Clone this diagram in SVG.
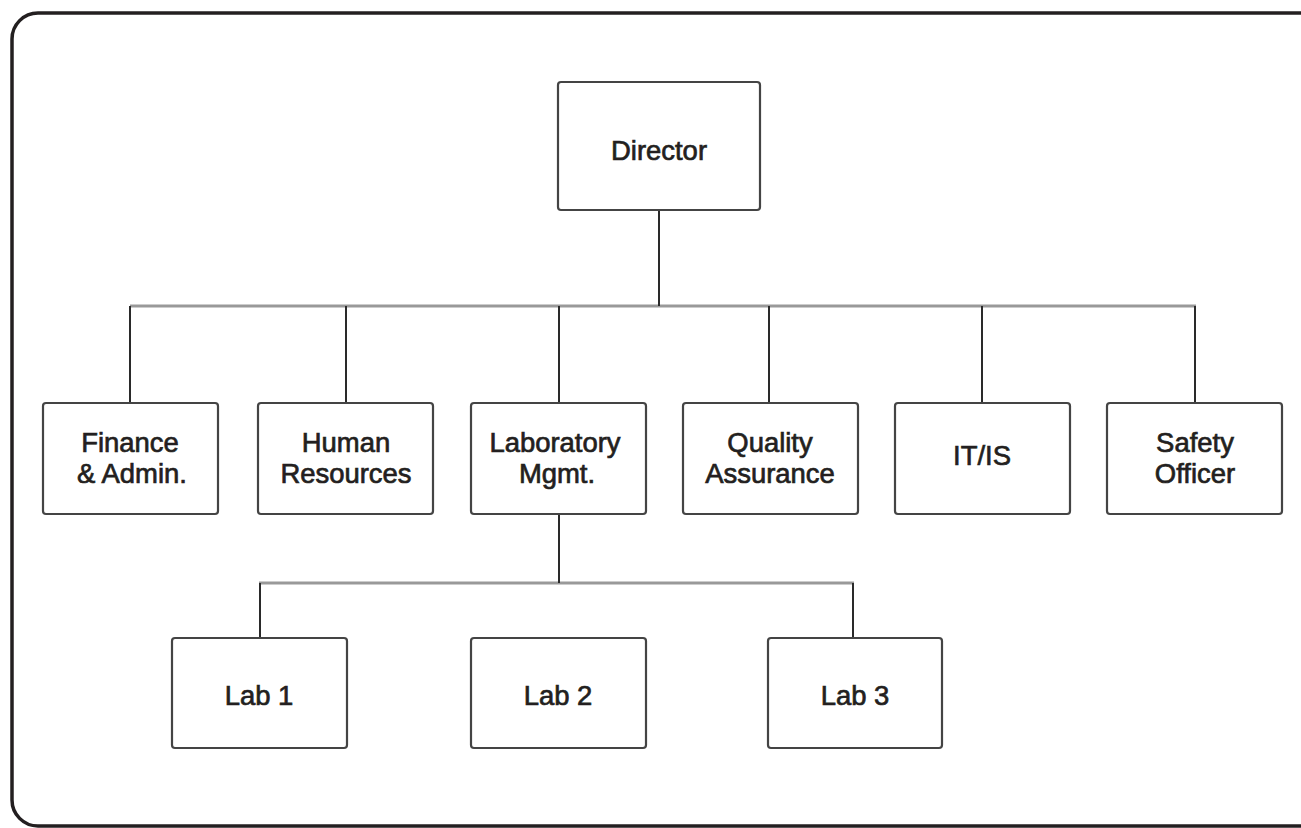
<svg xmlns="http://www.w3.org/2000/svg" width="1301" height="828" viewBox="0 0 1301 828">
<style>
.box{fill:#fff;stroke:#444;stroke-width:2.2}
.lbl{font-family:"Liberation Sans",Arial,sans-serif;font-size:28px;fill:#231f20;text-anchor:middle;stroke:#231f20;stroke-width:0.7}
.v{stroke:#2a2a2a;stroke-width:2;fill:none}
.h{stroke:#999;stroke-width:3;fill:none}
</style>
<rect x="12" y="13" width="1320" height="813" rx="26" ry="26" fill="#fff" stroke="#231f20" stroke-width="3.5"/>
<g id="connectors">
<line class="h" x1="130" y1="306" x2="1196" y2="306"/>
<line class="v" x1="659" y1="210" x2="659" y2="306"/>
<line class="v" x1="130" y1="306" x2="130" y2="403"/>
<line class="v" x1="346" y1="306" x2="346" y2="403"/>
<line class="v" x1="559" y1="306" x2="559" y2="403"/>
<line class="v" x1="769" y1="306" x2="769" y2="403"/>
<line class="v" x1="982" y1="306" x2="982" y2="403"/>
<line class="v" x1="1195" y1="306" x2="1195" y2="403"/>
<line class="h" x1="259" y1="583" x2="854" y2="583"/>
<line class="v" x1="559" y1="514" x2="559" y2="583"/>
<line class="v" x1="260" y1="583" x2="260" y2="638"/>
<line class="v" x1="853" y1="583" x2="853" y2="638"/>
</g>
<g id="director"><rect class="box" x="558" y="82" width="202" height="128" rx="3"/><text class="lbl" transform="translate(659 160) scale(0.98 1)">Director</text></g>
<g id="finance"><rect class="box" x="43" y="403" width="175" height="111" rx="3"/><text class="lbl" transform="translate(130 452) scale(0.98 1)">Finance</text><text class="lbl" transform="translate(132 483) scale(0.98 1)">&amp; Admin.</text></g>
<g id="hr"><rect class="box" x="258" y="403" width="175" height="111" rx="3"/><text class="lbl" transform="translate(346 452) scale(0.98 1)">Human</text><text class="lbl" transform="translate(346 483) scale(0.98 1)">Resources</text></g>
<g id="labmgmt"><rect class="box" x="471" y="403" width="175" height="111" rx="3"/><text class="lbl" transform="translate(555 452) scale(0.98 1)">Laboratory</text><text class="lbl" transform="translate(557 483) scale(0.98 1)">Mgmt.</text></g>
<g id="qa"><rect class="box" x="683" y="403" width="175" height="111" rx="3"/><text class="lbl" transform="translate(770 452) scale(0.98 1)">Quality</text><text class="lbl" transform="translate(770 483) scale(0.98 1)">Assurance</text></g>
<g id="itis"><rect class="box" x="895" y="403" width="175" height="111" rx="3"/><text class="lbl" transform="translate(982 465) scale(0.98 1)">IT/IS</text></g>
<g id="safety"><rect class="box" x="1107" y="403" width="175" height="111" rx="3"/><text class="lbl" transform="translate(1195 452) scale(0.98 1)">Safety</text><text class="lbl" transform="translate(1195 483) scale(0.98 1)">Officer</text></g>
<g id="lab1"><rect class="box" x="172" y="638" width="175" height="110" rx="3"/><text class="lbl" transform="translate(259 705) scale(0.98 1)">Lab 1</text></g>
<g id="lab2"><rect class="box" x="471" y="638" width="175" height="110" rx="3"/><text class="lbl" transform="translate(558 705) scale(0.98 1)">Lab 2</text></g>
<g id="lab3"><rect class="box" x="768" y="638" width="174" height="110" rx="3" stroke-width="2.8" stroke="#333"/><text class="lbl" transform="translate(855 705) scale(0.98 1)">Lab 3</text></g>
</svg>
